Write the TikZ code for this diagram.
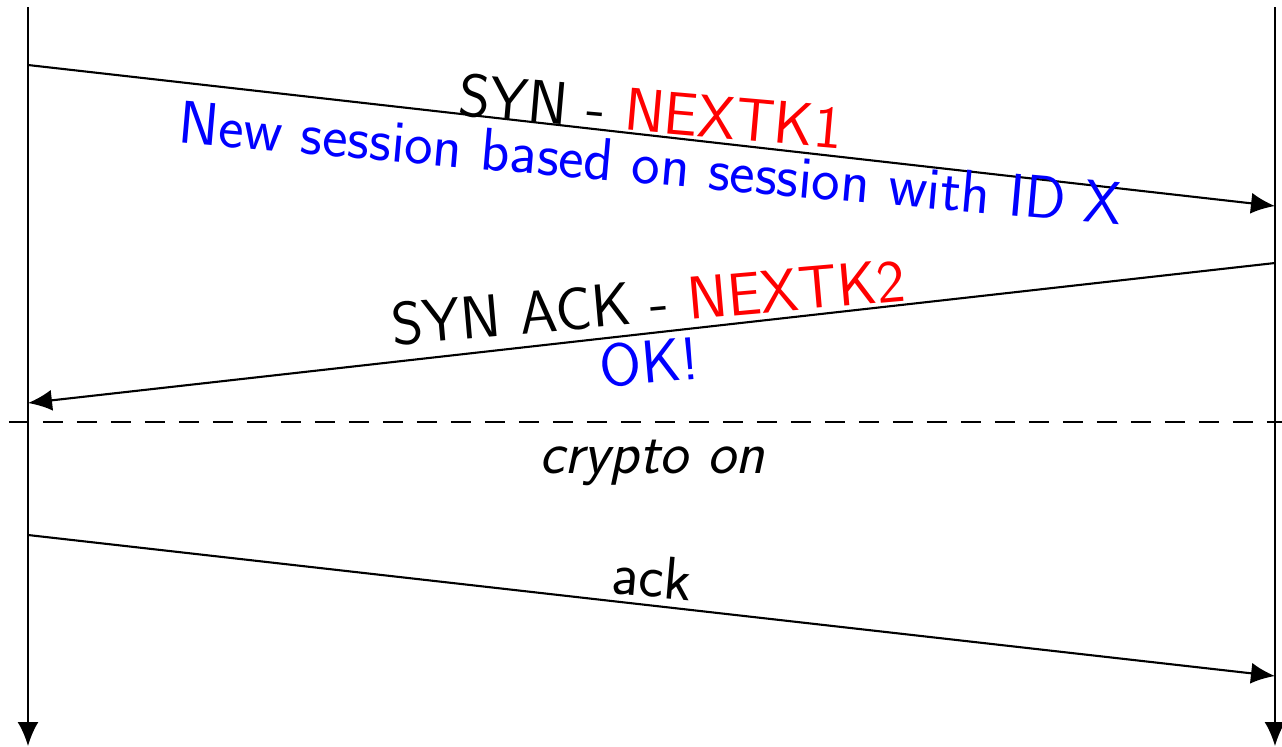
\documentclass[tikz,border=0pt]{standalone}
\usetikzlibrary{arrows.meta}
\tikzset{
  msgline/.style={line width=0.6pt, -{Latex[length=2.4mm,width=2.1mm]}},
  msglabel/.style={font=\sffamily\fontsize{17.2}{20}\selectfont, anchor=base, inner sep=0pt},
  labeldown/.style={msglabel, rotate=-5},
  labelup/.style={msglabel, rotate=5},
}
\begin{document}
\begin{tikzpicture}[x=0.1mm,y=-0.1mm]
    \useasboundingbox (0,0) rectangle (1282,746);
    % lifelines
    \coordinate (atop) at (28,7);
    \coordinate (abot) at (28,746);
    \coordinate (btop) at (1275,7);
    \coordinate (bbot) at (1275,746);
    \draw[msgline] (atop) -- (abot);
    \draw[msgline] (btop) -- (bbot);
    % SYN
    \coordinate (syna) at (28,65);
    \coordinate (synb) at (1275,206);
    \draw[msgline] (syna) -- (synb);
    \node[labeldown] (syn) at (649,132) {SYN - \textcolor{red}{NEXTK1}};
    \node[labeldown, text=blue] (synnote) at (649,184) {New session based on session with ID X};
    % SYN ACK
    \coordinate (synackb) at (1275,263);
    \coordinate (synacka) at (28,403);
    \draw[msgline] (synackb) -- (synacka);
    \node[labelup] (synack) at (650,323) {SYN ACK - \textcolor{red}{NEXTK2}};
    \node[labelup, text=blue] (synacknote) at (651,383) {OK!};
    % crypto starts here
    \coordinate (sepl) at (9,422);
    \coordinate (sepr) at (1282,422);
    \draw[line width=0.6pt, dash pattern=on 2mm off 1.4mm] (sepl) -- (sepr);
    \node[msglabel, font=\sffamily\itshape\fontsize{17.2}{20}\selectfont] (crypto) at (652,473) {crypto on};
    % ack
    \coordinate (acka) at (28,535);
    \coordinate (ackb) at (1275,676);
    \draw[msgline] (acka) -- (ackb);
    \node[labeldown] (ack) at (650,597) {ack};
\end{tikzpicture}
\end{document}
